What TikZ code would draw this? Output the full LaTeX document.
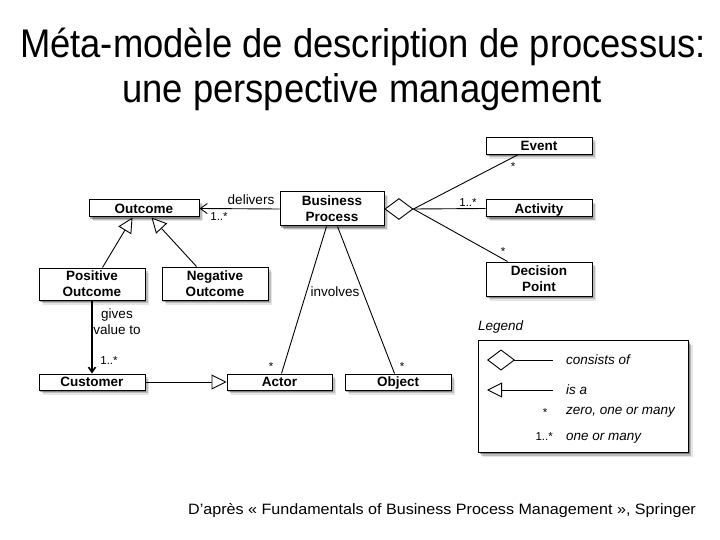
\documentclass[tikz,border=0pt]{standalone}
\usepackage{fontspec}
\setmainfont{Liberation Sans}
\usetikzlibrary{arrows.meta,shadows,shapes.geometric,calc}
\newcommand\boxfont{\bfseries\fontsize{13.5}{16}\selectfont}
\newcommand\lblfont{\fontsize{13.5}{16}\selectfont}
\newcommand\multfont{\fontsize{11.5}{13}\selectfont}
\newcommand\legfont{\itshape\fontsize{13.5}{16}\selectfont}
\begin{document}
\begin{tikzpicture}[x=1pt,y=-1pt,
  softshadow/.style={
    drop shadow={shadow xshift=4pt, shadow yshift=-4.5pt, opacity=0.10, fill=black},
    drop shadow={shadow xshift=2.5pt, shadow yshift=-3pt, opacity=0.18, fill=black},
    drop shadow={shadow xshift=1.2pt, shadow yshift=-1.6pt, opacity=0.30, fill=black}},
  box/.style={draw, fill=white, line width=1pt, inner sep=0pt, minimum width=106pt,
    minimum height=17pt, align=center, font=\boxfont, softshadow},
  oneline/.style={text height=9.7pt, text depth=0pt},
  edge/.style={line width=0.9pt},
  assoc/.style={edge, -{Straight Barb[length=7pt,width=10pt]}},
  isa/.style={edge, -{Triangle[open,fill=white,length=15pt,width=15pt]}},
  lbl/.style={inner sep=0pt, font=\lblfont, align=center},
  mult/.style={inner sep=0pt, font=\multfont, text height=8.2pt, text depth=0pt},
  legtext/.style={inner sep=0pt, anchor=west, font=\legfont, text height=9.7pt, text depth=0pt}]
\useasboundingbox[fill=white] (0,0) rectangle (720,540);

% title
\node[anchor=base, inner sep=0pt, font=\fontsize{40}{44}\selectfont] (t1) at (363,58)
  {\scalebox{0.91}[1]{Méta-modèle de description de processus:}};
\node[anchor=base, inner sep=0pt, font=\fontsize{40}{44}\selectfont] (t2) at (362,103)
  {\scalebox{0.91}[1]{une perspective management}};

% boxes
\node[box, oneline] (event) at (539,146) {Event};
\node[box, minimum width=104pt, minimum height=34pt] (bp) at (332,209) {Business\\Process};
\node[box, oneline, minimum width=110pt] (outcome) at (144,208.5) {Outcome};
\node[box, oneline] (activity) at (539,208.5) {Activity};
\node[box, minimum height=32pt] (pos) at (92,284) {Positive\\Outcome};
\node[box, minimum height=33pt] (neg) at (215,283.5) {Negative\\Outcome};
\node[box, minimum height=34pt] (dp) at (539,279) {Decision\\Point};
\node[box, oneline, minimum height=16pt] (cust) at (92,382) {Customer};
\node[box, oneline, minimum width=105pt, minimum height=16pt] (actor) at (279.5,382) {Actor};
\node[box, oneline, minimum height=16pt] (object) at (398,382) {Object};

% composition diamond
\node[draw, diamond, fill=white, minimum width=28pt, minimum height=21pt, inner sep=0pt,
  line width=0.9pt, anchor=west] (dia) at (bp.east) {};
\draw[edge] (dia.east) -- ($(event.south west)+(32,0)$);
\draw[edge] (dia.east) -- (activity.west);
\draw[edge] (dia.east) -- ($(dp.north west)+(22,0)$);

% delivers
\draw[assoc] (bp.west) -- (outcome.east);
% is-a
\draw[isa] ($(pos.north west)+(64,0)$) -- ($(outcome.south west)+(44,0)$);
\draw[isa] ($(neg.north west)+(35,0)$) -- ($(outcome.south west)+(63,0)$);
\draw[isa] (cust.east) -- (actor.west);
% gives value to
\draw[line width=1.6pt, -{Straight Barb[length=5pt,width=7pt]}] (pos.south) -- (cust.north);
% involves
\draw[edge] ($(bp.south west)+(47,0)$) -- ($(actor.north west)+(55,0)$);
\draw[edge] ($(bp.south west)+(58,0)$) -- ($(object.north west)+(50,0)$);

% labels
\node[lbl] (ldeliv) at (251,200) {delivers};
\node[mult] (m1) at (219,216) {1..*};
\node[mult] (m2) at (513,166) {*};
\node[mult] (m3) at (468,202) {1..*};
\node[mult] (m4) at (503,251) {*};
\node[lbl] (linv) at (335,292) {involves};
\node[lbl] (lgives) at (117,322) {gives\\value to};
\node[mult] (m5) at (109,360) {1..*};
\node[mult] (m6) at (271,366) {*};
\node[mult] (m7) at (402,366) {*};

% legend
\node[anchor=base west, inner sep=0pt, font=\legfont] (legtitle) at (478,330) {Legend};
\node[draw, fill=white, line width=1pt, softshadow, minimum width=210pt, minimum height=112pt,
  inner sep=0pt, anchor=north west] (legbox) at (478,340) {};
\coordinate (la1) at (487,360); \coordinate (lb1) at (553,360);
\draw[edge, {Diamond[open,length=28pt,width=21pt]}-] (la1) -- (lb1);
\node[legtext] (lt1) at (566,360) {consists of};
\coordinate (la2) at (487,390); \coordinate (lb2) at (553,390);
\draw[edge, {Triangle[open,length=15pt,width=15pt]}-] (la2) -- (lb2);
\node[legtext] (lt2) at (566,390) {is a};
\node[mult] (lm1) at (545,412) {*};
\node[legtext] (lt3) at (566,410) {zero, one or many};
\node[mult, anchor=east] (lm2) at (553,436) {1..*};
\node[legtext] (lt4) at (566,436) {one or many};

% footer
\node[anchor=base west, inner sep=0pt, font=\fontsize{15}{18}\selectfont] (foot) at (188,514)
  {\scalebox{1.074}[1]{D’après « Fundamentals of Business Process Management », Springer}};
\end{tikzpicture}
\end{document}
